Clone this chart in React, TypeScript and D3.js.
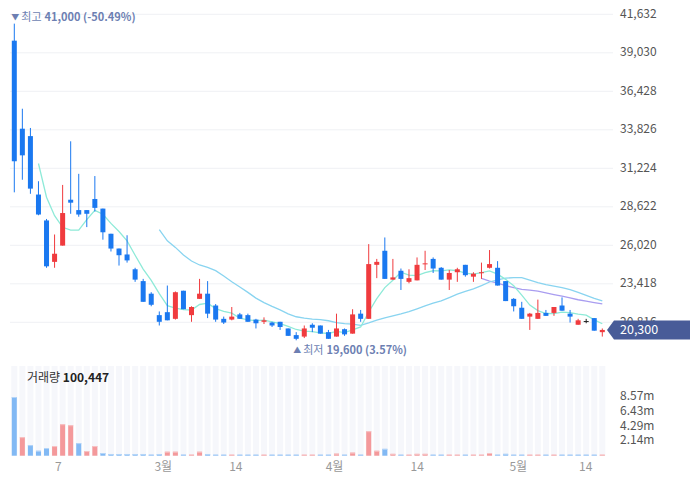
import * as d3 from 'd3';

// candles, one per trading day (won)
const opens = [
  39850, 33900, 33400, 29450, 27700, 24900, 26000, 29100, 28400, 28400,
  29150, 28500, 26800, 25800, 25400, 24400, 23600, 22750, 21300, 21500,
  21050, 22950, 21300, 22400, 22750, 21950, 21050, 21000, 21350, 21300,
  21000, 20850, 20800, 20850, 20400, 19950, 19850, 20650, 20600, 20150,
  19850, 20350, 20050, 21400, 21050, 24700, 25650, 23700, 24300, 23550,
  23650, 24750, 25100, 24500, 23700, 24200, 24700, 23900, 24150, 24500,
  24500, 23600, 22400, 21800, 21200, 21050, 21450, 21450, 21950, 21400,
  20650, 20900, 21100, 20150,
];
const highs = [
  41000, 35250, 33950, 30350, 27800, 26750, 30100, 33050, 30850, 28400,
  30700, 28500, 26800, 25800, 26700, 24500, 23750, 22850, 21550, 23300,
  22900, 22950, 21900, 23750, 23600, 22050, 21200, 21850, 21450, 21400,
  21050, 21150, 20850, 20850, 20400, 20150, 20600, 20750, 20600, 20300,
  21400, 20400, 21700, 21650, 26100, 25100, 26550, 25100, 24450, 24400,
  25200, 25650, 25200, 24550, 24350, 24500, 24700, 24200, 24850, 25700,
  24950, 23600, 22450, 22200, 21450, 22350, 21650, 21850, 22500, 21650,
  21050, 21050, 21100, 20400,
];
const lows = [
  29600, 30450, 29500, 28050, 24500, 24500, 26000, 28150, 27950, 27250,
  28300, 26400, 25600, 24650, 24850, 23550, 22200, 21900, 20600, 20950,
  21000, 21700, 20850, 22400, 21100, 20850, 20700, 20950, 21050, 20850,
  20400, 20700, 20500, 20300, 19900, 19600, 19750, 20150, 20050, 19700,
  19850, 19900, 20050, 20850, 21050, 23800, 23750, 23700, 23000, 23450,
  23650, 24350, 24150, 23700, 23000, 23550, 23900, 23550, 23750, 24450,
  23300, 22250, 21550, 21050, 20300, 21050, 21250, 21250, 21600, 20800,
  20650, 20750, 20250, 19850,
];
const closes = [
  31700, 32100, 29850, 28100, 24600, 25450, 28200, 28900, 28100, 28150,
  28550, 26900, 25800, 25350, 25000, 23700, 22200, 22000, 20850, 20950,
  22850, 21700, 21850, 22750, 21400, 21000, 20800, 21200, 21050, 20850,
  20750, 20950, 20600, 20500, 19900, 19700, 20400, 20450, 20050, 19700,
  20400, 20000, 21350, 21050, 24750, 24900, 23750, 23850, 23750, 23800,
  24700, 24800, 24450, 23700, 24150, 24400, 24000, 24100, 24200, 24750,
  23300, 22250, 21900, 21050, 21400, 21450, 21250, 21850, 21600, 21200,
  20950, 20900, 20250, 20300,
];
// volume in shares
const volumes = [
  8570000, 2710000, 1550000, 720000, 1120000, 1410000, 4600000, 4450000, 1840000, 680000,
  1410000, 390000, 250000, 250000, 250000, 250000, 250000, 150000, 250000, 580000,
  580000, 150000, 150000, 580000, 250000, 120000, 120000, 120000, 120000, 120000,
  120000, 120000, 120000, 120000, 120000, 120000, 120000, 120000, 50000, 120000,
  300000, 120000, 450000, 120000, 3580000, 720000, 1000000, 270000, 120000, 120000,
  270000, 270000, 120000, 120000, 120000, 120000, 120000, 60000, 120000, 390000,
  120000, 270000, 120000, 120000, 60000, 120000, 60000, 60000, 120000, 60000,
  60000, 60000, 60000, 100447,
];

// moving averages (null = not drawn)
const N = null;
const ma5 = [
  N, N, N, 31550, 29270, 28020, 27240, 27050, 27050, 27760,
  28380, 28120, 27500, 26950, 26320, 25350, 24410, 23650, 22750, 21940,
  21770, 21670, 21640, 22020, 22110, 21740, 21560, 21430, 21090, 20980,
  20930, 20960, 20840, 20730, 20540, 20330, 20220, 20190, 20100, 20060,
  20200, 20120, 20300, 20500, 21510, 22410, 23160, 23660, 24200, 24010,
  23970, 24180, 24300, 24290, 24360, 24300, 24140, 24070, 24170, 24290,
  24070, 23720, 23280, 22650, 21980, 21610, 21410, 21400, 21510, 21470,
  21370, 21300, 20980, 20720,
];
const ma20 = [
  N, N, N, N, N, N, N, N, N, N,
  N, N, N, N, N, N, N, N, 27075, 26320,
  25880, 25360, 24960, 24690, 24530, 24310, 23940, 23560, 23200, 22840,
  22450, 22150, 21890, 21650, 21390, 21190, 21100, 21030, 20990, 20920,
  20800, 20720, 20690, 20610, 20770, 20970, 21120, 21250, 21380, 21530,
  21730, 21920, 22110, 22270, 22490, 22720, 22900, 23080, 23290, 23540,
  23690, 23800, 23830, 23830, 23660, 23490, 23360, 23260, 23160, 23030,
  22840, 22640, 22430, 22260,
];
const ma60 = [
  ...Array(58).fill(N),
  23780, 23600, 23460, 23290, 23160, 23040, 22990, 22920, 22810, 22690,
  22580, 22460, 22340, 22240, 22150, 22060,
];

const priceTicks = [41632, 39030, 36428, 33826, 31224, 28622, 26020, 23418, 20816];
const volTicks = [8570000, 6430000, 4290000, 2140000];
const volTickLabels = ['8.57m', '6.43m', '4.29m', '2.14m'];
const xTickLabels = ['7', '3월', '14', '4월', '14', '5월', '14'];
const xTickAt = [5.46, 18.5, 27.5, 39.75, 50.03, 62.57, 70.94];

const lastPrice = 20300;
const highInfo = '41,000 (-50.49%)';
const lowInfo = '19,600 (3.57%)';
const lastVolume = '100,447';

const W = 691;
const H = 490;
const RED = '#F03B3E';
const BLUE = '#1A78F0';
const FONT = "'Noto Sans CJK KR', 'Noto Sans', sans-serif";

export default function App() {
  const n = closes.length;
  const x = d3.scaleLinear().domain([0, n - 1]).range([14.3, 602.3]);
  const y = d3.scaleLinear().domain([20816, 41632]).range([322.3, 14.3]);
  const yv = d3.scaleLinear().domain([0, 8570000]).range([455.7, 397]);
  const step = x(1) - x(0);

  const maLine = (vals: (number | null)[]) =>
    d3.line<number | null>()
      .defined(d => d !== null)
      .x((_, i) => x(i))
      .y(d => y(d as number))(vals) || '';

  const hiIdx = d3.maxIndex(highs);
  const loIdx = d3.minIndex(lows);
  const tagY = y(lastPrice);

  return (
    <svg width={W} height={H} style={{ position: 'absolute', left: 0, top: 0, fontFamily: FONT }}>
      <rect width={W} height={H} fill="#fff" />

      {/* price grid */}
      {priceTicks.map(t => (
        <line key={t} x1={10} x2={613} y1={y(t)} y2={y(t)} stroke="#eff1f4" strokeWidth={1} />
      ))}

      {/* volume background columns */}
      {closes.map((_, i) => (
        <rect key={'bg' + i} x={x(i) - 3} y={366} width={6} height={90} fill="#f6f7fb" />
      ))}

      {/* volume bars */}
      {volumes.map((v, i) => {
        const up = i === 0 ? closes[0] >= opens[0] : closes[i] >= closes[i - 1];
        const top = yv(v);
        const h = Math.max(1, yv(0) - top);
        return (
          <g key={'v' + i}>
            <rect x={x(i) - 2.5} y={yv(0) - h} width={5} height={h} fill={up ? '#F4999B' : '#82B9F4'} />
            <rect x={x(i) - 2.5} y={yv(0) - h} width={5} height={1} fill={up ? '#f7c4c5' : '#b5d5f8'} />
          </g>
        );
      })}

      {/* moving averages */}
      <path d={maLine(ma60)} fill="none" stroke="#A99DF0" strokeWidth={1.3} />
      <path d={maLine(ma20)} fill="none" stroke="#89D4F0" strokeWidth={1.3} />
      <path d={maLine(ma5)} fill="none" stroke="#8EEAD8" strokeWidth={1.3} />

      {/* candles */}
      {closes.map((c, i) => {
        const o = opens[i];
        const color = c > o ? RED : c < o ? BLUE : '#222';
        const top = y(Math.max(o, c));
        const bh = Math.max(1, Math.abs(y(o) - y(c)));
        return (
          <g key={'c' + i}>
            <line x1={x(i)} x2={x(i)} y1={y(highs[i])} y2={y(lows[i])} stroke={color} strokeWidth={1} />
            <rect x={x(i) - 2.5} y={top} width={5} height={bh} fill={color} />
          </g>
        );
      })}

      {/* high / low markers */}
      <text x={x(hiIdx) - 3} y={y(highs[hiIdx]) - 6} fontSize={11} fill="#6D7FB2" dominantBaseline="middle">
        <tspan fontSize={8}>▼</tspan>
        <tspan dx={2}>최고</tspan>
        <tspan dx={3} fontWeight="bold">{highInfo}</tspan>
      </text>
      <text x={x(loIdx) - 3} y={y(lows[loIdx]) + 11} fontSize={11} fill="#6D7FB2" dominantBaseline="middle">
        <tspan fontSize={8}>▲</tspan>
        <tspan dx={2}>최저</tspan>
        <tspan dx={3} fontWeight="bold">{lowInfo}</tspan>
      </text>

      {/* price axis */}
      {priceTicks.map(t => (
        <text key={'pt' + t} x={620} y={y(t)} fontSize={12} fill="#555" dominantBaseline="middle">
          {d3.format(',')(t)}
        </text>
      ))}

      {/* last price tag */}
      <path
        d={`M${607},${tagY} L${614},${tagY - 9.5} L${690},${tagY - 9.5} L${690},${tagY + 9.5} L${614},${tagY + 9.5} Z`}
        fill="#485C98"
      />
      <text x={620} y={tagY + 0.5} fontSize={12.5} fill="#fff" dominantBaseline="middle">
        {d3.format(',')(lastPrice)}
      </text>

      {/* volume axis */}
      {volTicks.map((t, i) => (
        <text key={'vt' + t} x={620} y={yv(t)} fontSize={12} fill="#555" dominantBaseline="middle">
          {volTickLabels[i]}
        </text>
      ))}

      <text x={27} y={379} fontSize={12} fill="#333" dominantBaseline="middle">
        거래량 <tspan fontWeight="bold" fill="#222">{lastVolume}</tspan>
      </text>

      {/* date axis */}
      {xTickLabels.map((l, i) => (
        <text key={'xt' + i} x={x(0) + xTickAt[i] * step} y={468} fontSize={12} fill="#999" textAnchor="middle" dominantBaseline="middle">
          {l}
        </text>
      ))}
    </svg>
  );
}
